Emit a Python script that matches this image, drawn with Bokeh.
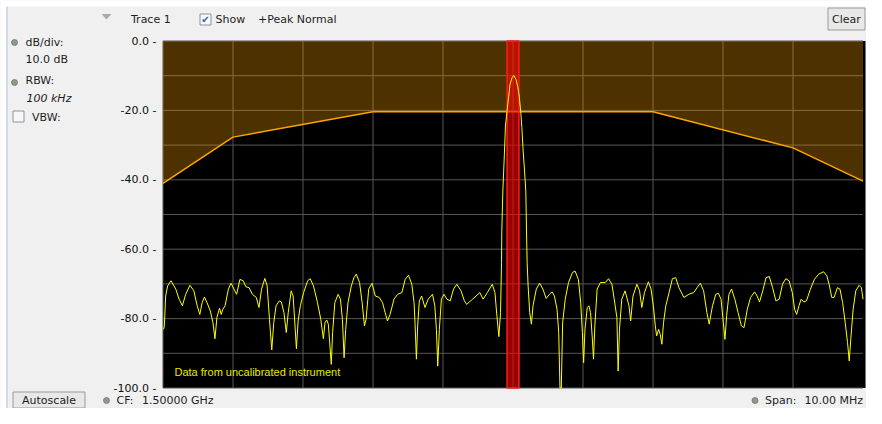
from bokeh.plotting import figure
from bokeh.models import Range1d
from bokeh.core.properties import value
from bokeh.embed import file_html
from bokeh.resources import INLINE

# ---------------- data ----------------
start_mhz = 1495.0  # CF 1.5 GHz, span 10 MHz
span_mhz = 10.0
trace_offset_mhz = [
    0.009, 0.019, 0.038, 0.066, 0.113, 0.183, 0.230, 0.277, 0.324, 0.385, 0.441, 0.488, 0.526, 0.559,
    0.592, 0.629, 0.676, 0.714, 0.742, 0.770, 0.808, 0.831, 0.855, 0.887, 0.934, 0.972, 1.014, 1.052,
    1.099, 1.146, 1.183, 1.230, 1.277, 1.333, 1.371, 1.408, 1.455, 1.488, 1.521, 1.554, 1.582, 1.615,
    1.662, 1.690, 1.728, 1.761, 1.789, 1.831, 1.859, 1.883, 1.906, 1.930, 1.962, 2.009, 2.066, 2.103,
    2.150, 2.207, 2.254, 2.291, 2.314, 2.338, 2.362, 2.385, 2.404, 2.423, 2.455, 2.502, 2.535, 2.563,
    2.587, 2.610, 2.643, 2.690, 2.728, 2.761, 2.808, 2.845, 2.878, 2.901, 2.939, 2.986, 3.033, 3.089,
    3.136, 3.174, 3.207, 3.244, 3.300, 3.352, 3.413, 3.460, 3.507, 3.554, 3.587, 3.601, 3.620, 3.638,
    3.662, 3.695, 3.742, 3.789, 3.850, 3.883, 3.906, 3.925, 3.948, 3.977, 4.014, 4.056, 4.103, 4.150,
    4.197, 4.258, 4.305, 4.338, 4.423, 4.526, 4.573, 4.634, 4.704, 4.742, 4.770, 4.798, 4.822, 4.836,
    4.840, 4.855, 4.877, 4.892, 4.915, 4.939, 4.958, 4.986, 5.010, 5.042, 5.066, 5.089, 5.113, 5.127,
    5.145, 5.165, 5.183, 5.193, 5.202, 5.216, 5.239, 5.263, 5.286, 5.333, 5.380, 5.427, 5.474, 5.521,
    5.559, 5.592, 5.629, 5.653, 5.671, 5.690, 5.709, 5.746, 5.793, 5.850, 5.887, 5.934, 5.967, 5.991,
    6.009, 6.028, 6.061, 6.085, 6.108, 6.131, 6.150, 6.169, 6.202, 6.249, 6.319, 6.366, 6.413, 6.460,
    6.484, 6.502, 6.521, 6.554, 6.601, 6.657, 6.681, 6.714, 6.770, 6.808, 6.840, 6.878, 6.934, 6.972,
    7.005, 7.033, 7.052, 7.080, 7.103, 7.127, 7.150, 7.183, 7.230, 7.277, 7.324, 7.371, 7.441, 7.512,
    7.582, 7.629, 7.676, 7.723, 7.770, 7.803, 7.850, 7.897, 7.934, 7.972, 8.005, 8.028, 8.052, 8.085,
    8.122, 8.169, 8.216, 8.263, 8.300, 8.347, 8.394, 8.451, 8.488, 8.521, 8.568, 8.615, 8.662, 8.709,
    8.756, 8.803, 8.850, 8.897, 8.944, 8.990, 9.023, 9.052, 9.085, 9.117, 9.155, 9.192, 9.249, 9.305,
    9.366, 9.437, 9.484, 9.521, 9.554, 9.587, 9.634, 9.671, 9.709, 9.746, 9.779, 9.803, 9.826, 9.859,
    9.897, 9.944, 9.977, 10.000,
]
trace_db = [
    -83.1, -82.1, -73.5, -70.6, -69.1, -71.5, -74.4, -76.3, -73.0, -70.4, -72.0, -76.3, -78.8, -75.4,
    -73.8, -75.4, -77.8, -81.2, -85.8, -79.7, -77.0, -78.8, -77.3, -76.3, -71.5, -69.8, -71.5, -73.0,
    -68.7, -69.1, -70.8, -71.1, -73.0, -73.9, -76.8, -71.5, -68.4, -70.6, -80.2, -89.0, -81.2, -76.3,
    -74.9, -75.2, -78.3, -84.0, -78.3, -72.0, -73.5, -81.2, -88.7, -80.7, -76.3, -72.5, -69.1, -68.5,
    -70.6, -75.4, -80.2, -85.8, -81.2, -80.4, -81.6, -87.9, -93.2, -84.0, -75.4, -73.0, -74.4, -80.2,
    -91.3, -83.1, -75.4, -70.6, -68.2, -67.2, -69.6, -75.4, -82.1, -80.2, -71.5, -69.8, -73.5, -73.9,
    -75.4, -78.3, -80.7, -78.8, -74.4, -73.0, -72.5, -68.7, -67.5, -70.1, -75.4, -81.6, -91.7, -82.1,
    -74.9, -73.5, -76.8, -74.4, -73.0, -76.3, -83.1, -93.7, -83.1, -74.4, -73.0, -74.4, -74.9, -71.5,
    -70.1, -72.0, -74.9, -75.9, -74.4, -72.5, -74.4, -72.5, -70.1, -72.5, -79.2, -85.2, -78.3, -63.8,
    -54.8, -43.2, -32.6, -24.5, -20.2, -15.9, -12.5, -10.6, -9.9, -11.0, -13.0, -15.9, -21.0, -25.0,
    -31.7, -37.5, -43.2, -54.8, -63.8, -70.6, -78.3, -81.6, -76.3, -71.5, -69.8, -71.5, -74.2, -73.0,
    -72.3, -73.5, -77.3, -84.0, -100.0, -100.0, -81.2, -74.4, -69.6, -66.7, -66.3, -68.7, -75.4, -84.0,
    -92.7, -83.1, -76.8, -76.3, -78.3, -85.0, -91.7, -82.1, -71.5, -69.6, -69.6, -68.5, -70.1, -76.3,
    -79.7, -95.1, -83.1, -74.4, -72.0, -76.3, -80.7, -73.5, -70.1, -72.0, -76.8, -72.5, -69.4, -71.5,
    -76.3, -82.1, -85.0, -83.1, -84.5, -87.4, -81.2, -76.3, -72.5, -68.5, -68.2, -71.1, -73.9, -73.0,
    -72.5, -71.1, -69.8, -72.0, -78.3, -81.6, -76.3, -73.0, -72.7, -74.4, -81.2, -86.0, -79.2, -73.0,
    -71.5, -74.4, -78.3, -82.1, -82.6, -77.3, -73.9, -72.3, -73.5, -75.2, -72.0, -68.2, -67.9, -71.1,
    -74.9, -74.4, -70.1, -68.5, -69.1, -72.5, -77.3, -78.8, -76.3, -74.4, -75.2, -74.9, -71.5, -68.7,
    -67.2, -66.5, -67.7, -70.6, -73.9, -73.9, -71.1, -71.5, -75.4, -81.2, -86.9, -92.2, -85.8, -77.3,
    -72.0, -70.4, -71.1, -74.4,
]
mask_offset_mhz = [0, 1, 3, 7, 9, 10]
mask_db = [-41.0, -27.7, -20.4, -20.4, -30.8, -40.4]
marker_offset_mhz = 5.0
marker_width_mhz = 0.17
ref_level_db = 0.0
bottom_db = -100.0
y_tick_db = [0, -20, -40, -60, -80, -100]
y_tick_labels = ["0.0 -", "-20.0 -", "-40.0 -", "-60.0 -", "-80.0 -", "-100.0 -"]
grid_db = list(range(-100, 1, 10))
grid_offset_mhz = list(range(0, 10))

trace_mhz = [start_mhz + v for v in trace_offset_mhz]
mask_mhz = [start_mhz + v for v in mask_offset_mhz]
marker_mhz = start_mhz + marker_offset_mhz
grid_mhz = [start_mhz + v for v in grid_offset_mhz]
stop_mhz = start_mhz + span_mhz

# ---------------- canvas / scales ----------------
W, H = 866, 408
PLOT_L, PLOT_T, PLOT_B, PLOT_R = 162.5, 40.5, 387.5, 865.0   # pixel positions of the graticule
PX_PER_MHZ = 70.0
PX_PER_DB = (PLOT_B - PLOT_T) / (ref_level_db - bottom_db)
x_lo = start_mhz - PLOT_L / PX_PER_MHZ
y_hi = ref_level_db + PLOT_T / PX_PER_DB
y_lo = bottom_db - (H - PLOT_B) / PX_PER_DB

p = figure(width=W, height=H, output_backend="svg", toolbar_location=None,
           x_range=Range1d(0, W), y_range=Range1d(H, 0),
           x_axis_location=None, y_axis_location=None, min_border=0)
p.extra_x_ranges = {"mhz": Range1d(x_lo, x_lo + W / PX_PER_MHZ)}
p.extra_y_ranges = {"db": Range1d(y_lo, y_hi)}
p.grid.grid_line_color = None
p.outline_line_color = None
p.background_fill_color = "#f0f0f0"
p.border_fill_color = "#f0f0f0"

# window edge (white strip and light blue frame line)
p.quad(left=[0, 0], right=[W, 6], top=[0, 0], bottom=[6, H], fill_color="#ffffff", line_color=None)
p.segment(x0=[6.5], x1=[6.5], y0=[6], y1=[H], line_color="#a9c4e2", line_width=1)

D = dict(x_range_name="mhz", y_range_name="db")
right_edge_mhz = x_lo + PLOT_R / PX_PER_MHZ

# graticule background
p.quad(left=[start_mhz], right=[right_edge_mhz], top=[ref_level_db], bottom=[bottom_db],
       fill_color="#000000", line_color=None, **D)
# grid
p.segment(x0=grid_mhz, x1=grid_mhz, y0=[bottom_db] * len(grid_mhz), y1=[ref_level_db] * len(grid_mhz),
          line_color="#575757", line_width=1, **D)
p.segment(x0=[start_mhz] * len(grid_db), x1=[stop_mhz] * len(grid_db), y0=grid_db, y1=grid_db,
          line_color="#575757", line_width=1, **D)

# mask (limit) fill and line
p.varea(x=mask_mhz, y1=mask_db, y2=[ref_level_db] * len(mask_db), fill_color="#ffa500",
        fill_alpha=0.3, **D)
p.line(mask_mhz, mask_db, line_color="#ffa500", line_width=1.5, **D)

# marker band
p.quad(left=[marker_mhz - marker_width_mhz / 2], right=[marker_mhz + marker_width_mhz / 2],
       top=[ref_level_db], bottom=[bottom_db], fill_color="#ff0000", fill_alpha=0.6,
       line_color="#ff1a1a", line_width=1.5, **D)

# trace
p.line(trace_mhz, trace_db, line_color="#ffff00", line_width=1, **D)

# y tick labels (right aligned just left of the graticule)
p.text(x=[156] * len(y_tick_db), y=y_tick_db, text=y_tick_labels, y_range_name="db",
       text_font=value("DejaVu Sans"), text_font_size=value("11px"), text_color="#111111",
       text_align=value("right"), text_baseline=value("middle"))

p.text(x=[174], y=[371], text=["Data from uncalibrated instrument"],
       text_font=value("Liberation Sans"), text_font_size=value("11px"), text_color="#e8e800",
       text_align=value("left"), text_baseline=value("middle"))

# ---------------- surrounding UI (canvas pixel coordinates) ----------------
# buttons and checkboxes
p.quad(left=[827.5, 12.5], right=[864.5, 84.5], top=[7.5, 391.5], bottom=[29.5, 407.5],
       fill_color="#e8e8e8", line_color="#9a9a9a", line_width=1)
p.quad(left=[199.5, 12.5], right=[210.5, 23.5], top=[13.5, 110.5], bottom=[24.5, 121.5],
       fill_color="#f7f7f7", line_color="#8e90a0", line_width=1)
# dropdown triangle
p.patch(x=[102, 110, 106], y=[14, 14, 18.5], fill_color="#a6a8b6", line_color="#a6a8b6")
# status icons
p.scatter(x=[14, 14, 106, 754.5], y=[42, 82, 400, 400], size=6, marker="circle",
          fill_color="#8c9a86", line_color="#6e7778", line_width=0.8)


def ui_text(xs, ys, texts, size="11px", color="#1e1e1e", align="left", style="normal",
            font="DejaVu Sans"):
    p.text(x=xs, y=ys, text=texts, text_font=value(font), text_font_size=value(size),
           text_color=color, text_align=value(align), text_baseline=value("middle"),
           text_font_style=value(style))


ui_text([846, 48.5], [18.5, 400], ["Clear", "Autoscale"], align="center")
ui_text([205], [19], ["\u2714"], size="10px", color="#3b5ea8", align="center")
ui_text([130.5, 215, 257.5], [18.5, 18.5, 18.5], ["Trace 1", "Show", "+Peak Normal"])
ui_text([25, 25, 25, 31.5], [41.5, 58.5, 80, 116.5], ["dB/div:", "10.0 dB", "RBW:", "VBW:"])
ui_text([26], [97.5], ["100 kHz"], style="italic")
ui_text([116, 141.5, 764.5, 804], [400, 400, 400, 400],
        ["CF:", "1.50000 GHz", "Span:", "10.00 MHz"])

open("out.html", "w").write(file_html(p, INLINE))
